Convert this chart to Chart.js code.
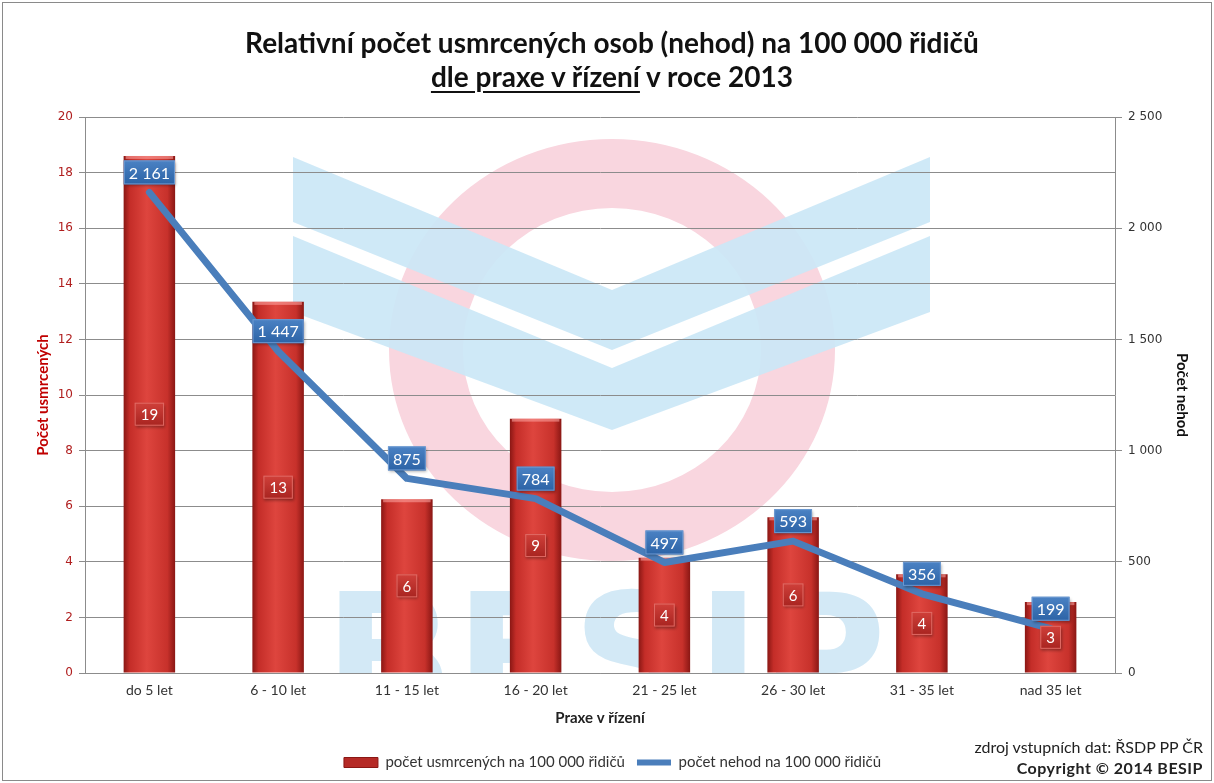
<!DOCTYPE html>
<html>
<head>
<meta charset="utf-8">
<script src="https://cdn.jsdelivr.net/npm/chart.js@4"></script>
<style>
  html, body { margin: 0; padding: 0; background: #fff; }
  #wrap { position: relative; width: 1214px; height: 783px; overflow: hidden; }
  #frame { position: absolute; left: 2px; top: 2px; right: 2px; bottom: 2px; border: 1px solid #8a8a8a; pointer-events: none; }
  #chart { position: absolute; left: 0; top: 0; }
  .title { position: absolute; left: 0; width: 1224px; text-align: center; font-family: Lato, 'Open Sans', sans-serif; font-weight: bold; font-size: 28px; color: #111; }
  .title u { text-decoration-thickness: 2px; text-underline-offset: 4px; }
  .note { position: absolute; right: 11px; font-family: Lato, 'Open Sans', sans-serif; font-size: 16px; color: #222; text-align: right; }
</style>
</head>
<body>
<div id="wrap">
  <canvas id="chart" width="1214" height="783"></canvas>
  <div class="title" style="top:25px">Relativní počet usmrcených osob (nehod) na 100 000 řidičů</div>
  <div class="title" style="top:59px"><u>dle praxe v řízení</u> v roce 2013</div>
  <div class="note" style="top:737px">zdroj vstupních dat: ŘSDP PP ČR</div>
  <div class="note" style="top:758px;font-weight:bold;letter-spacing:0.5px">Copyright © 2014 BESIP</div>
  <div id="frame"></div>
</div>
<script>
const categories = ['do 5 let', '6 - 10 let', '11 - 15 let', '16 - 20 let', '21 - 25 let', '26 - 30 let', '31 - 35 let', 'nad 35 let'];
const killedPer100k = [18.6, 13.35, 6.25, 9.15, 4.15, 5.6, 3.55, 2.55];
const accidentsPer100k = [2161, 1447, 875, 784, 497, 593, 356, 199];
const leftTicks = [0, 20, 2];
const rightTicks = [0, 2500, 500];

const NARROW = "Lato, 'Open Sans', sans-serif";
const WIDE = "'DejaVu Sans', Verdana, sans-serif";
const RED_TXT = '#b01e1e';
const LINE_BLUE = '#4a7ebb';

const fmtSpace = v => String(v).replace(/\B(?=(\d{3})+(?!\d))/g, ' ');

// bar fill: dark edges, lighter middle (Excel 3D look)
function barFill(c) {
  const chart = c.chart;
  if (!chart.chartArea || !chart.scales.x) return '#c8322d';
  const x = chart.scales.x.getPixelForValue(c.dataIndex);
  const w = chart.scales.x.width / categories.length * 0.4;
  const g = chart.ctx.createLinearGradient(x - w / 2, 0, x + w / 2, 0);
  g.addColorStop(0, '#8a1714');
  g.addColorStop(0.12, '#c42d28');
  g.addColorStop(0.45, '#de453e');
  g.addColorStop(0.85, '#c7312b');
  g.addColorStop(1, '#8a1714');
  return g;
}

const watermark = {
  id: 'watermark',
  beforeDraw(chart) {
    const { ctx, chartArea: a } = chart;
    ctx.save();
    ctx.fillStyle = '#fff';
    ctx.fillRect(0, 0, chart.width, chart.height);
    ctx.beginPath();
    ctx.rect(a.left, a.top, a.right - a.left, a.bottom - a.top);
    ctx.clip();
    // pink ring
    ctx.beginPath();
    ctx.ellipse(612, 350, 223, 211, 0, 0, Math.PI * 2);
    ctx.ellipse(612, 350, 149, 142, 0, 0, Math.PI * 2, true);
    ctx.fillStyle = '#f9d6df';
    ctx.fill('evenodd');
    // two chevrons
    ctx.fillStyle = 'rgba(203,231,246,0.92)';
    const chev = (t1, v1, t2, v2) => {
      ctx.beginPath();
      ctx.moveTo(293, t1); ctx.lineTo(612, v1); ctx.lineTo(930, t1);
      ctx.lineTo(930, t2); ctx.lineTo(612, v2); ctx.lineTo(293, t2);
      ctx.closePath(); ctx.fill();
    };
    chev(157, 290, 222, 350);
    chev(236, 368, 312, 430);
    // BESIP lettering, mostly hidden below the axis
    ctx.fillStyle = '#d3e9f6';
    ctx.font = "bold 172px 'DejaVu Sans', sans-serif";
    ctx.textAlign = 'center';
    ctx.textBaseline = 'alphabetic';
    ctx.fillText('BESIP', 605, 716);
    ctx.restore();
  }
};

function box(ctx, cx, cy, w, h, top, bottom, border) {
  const g = ctx.createLinearGradient(0, cy - h / 2, 0, cy + h / 2);
  g.addColorStop(0, top);
  g.addColorStop(1, bottom);
  ctx.shadowColor = 'rgba(0,0,0,0.35)';
  ctx.shadowBlur = 3;
  ctx.shadowOffsetX = 1;
  ctx.shadowOffsetY = 2;
  ctx.fillStyle = g;
  ctx.fillRect(cx - w / 2, cy - h / 2, w, h);
  ctx.shadowColor = 'transparent';
  ctx.strokeStyle = border;
  ctx.lineWidth = 1;
  ctx.strokeRect(cx - w / 2 + 0.5, cy - h / 2 + 0.5, w - 1, h - 1);
}

const valueLabels = {
  id: 'valueLabels',
  afterDatasetDraw(chart, args) {
    const { ctx } = chart;
    if (args.index !== 0) return;
    ctx.save();
    // light top cap on each bar
    args.meta.data.forEach(bar => {
      const p = bar.getProps(['x', 'y', 'width'], true);
      ctx.fillStyle = 'rgba(255,170,165,0.55)';
      ctx.fillRect(p.x - p.width / 2 + 2, p.y, p.width - 4, 3);
    });
    ctx.restore();
  },
  afterDatasetsDraw(chart) {
    const { ctx } = chart;
    ctx.save();
    ctx.textAlign = 'center';
    ctx.textBaseline = 'middle';
    const bars = chart.getDatasetMeta(0).data;
    ctx.font = '15px ' + NARROW;
    bars.forEach((bar, i) => {
      const p = bar.getProps(['x', 'y', 'base'], true);
      const txt = String(Math.round(killedPer100k[i]));
      const w = ctx.measureText(txt).width + 12;
      const cy = (p.y + p.base) / 2;
      box(ctx, p.x, cy, w, 23, '#d0403a', '#a82420', '#e06a64');
      ctx.fillStyle = '#fff';
      ctx.fillText(txt, p.x, cy + 1);
    });
    const pts = chart.getDatasetMeta(1).data;
    ctx.font = '16px ' + NARROW;
    pts.forEach((pt, i) => {
      const p = pt.getProps(['x', 'y'], true);
      const txt = fmtSpace(accidentsPer100k[i]);
      const w = ctx.measureText(txt).width + 10;
      const cy = p.y - 20;
      box(ctx, p.x, cy, w, 24, '#4b82c4', '#2c63a6', '#6d9ad2');
      ctx.fillStyle = '#fff';
      ctx.fillText(txt, p.x, cy + 1);
    });
    ctx.restore();
  }
};

new Chart(document.getElementById('chart'), {
  data: {
    labels: categories,
    datasets: [
      {
        type: 'bar',
        label: 'počet usmrcených na 100 000 řidičů',
        data: killedPer100k,
        yAxisID: 'y',
        order: 1,
        backgroundColor: barFill,
        borderWidth: 0,
        categoryPercentage: 1,
        barPercentage: 0.4,
      },
      {
        type: 'line',
        label: 'počet nehod na 100 000 řidičů',
        data: accidentsPer100k,
        yAxisID: 'y1',
        order: 0,
        borderColor: LINE_BLUE,
        backgroundColor: LINE_BLUE,
        borderWidth: 7,
        borderCapStyle: 'round',
        borderJoinStyle: 'round',
        pointRadius: 0,
        tension: 0,
      },
    ],
  },
  options: {
    responsive: false,
    animation: false,
    layout: { padding: { left: 30, right: 19, top: 117, bottom: 3 } },
    plugins: {
      title: { display: false },
      tooltip: { enabled: false },
      legend: {
        position: 'bottom',
        labels: {
          usePointStyle: true,
          pointStyleWidth: 34,
          boxHeight: 10,
          padding: 12,
          color: '#333',
          font: { family: NARROW, size: 15 },
          generateLabels: chart => chart.data.datasets.map((d, i) => ({
            text: d.label,
            datasetIndex: i,
            fillStyle: i === 0 ? '#b52a26' : LINE_BLUE,
            strokeStyle: i === 0 ? '#8a1714' : LINE_BLUE,
            lineWidth: i === 0 ? 1 : 6,
            pointStyle: i === 0 ? 'rect' : 'line',
            fontColor: '#333',
          })),
        },
      },
    },
    scales: {
      x: {
        offset: true,
        grid: { display: false, drawTicks: false },
        border: { display: true, color: '#8c8c8c' },
        ticks: { color: '#333', font: { family: NARROW, size: 14 }, padding: 9 },
        title: { display: true, text: 'Praxe v řízení', color: '#222', font: { family: NARROW, size: 15, weight: 'bold' }, padding: { top: 4, bottom: 16 } },
        afterFit: s => { s.height = 70; },
      },
      y: {
        position: 'left',
        min: leftTicks[0],
        max: leftTicks[1],
        ticks: { stepSize: leftTicks[2], color: RED_TXT, font: { family: WIDE, size: 12 }, padding: 6 },
        grid: { color: '#8c8c8c', tickLength: 6 },
        border: { color: '#8c8c8c' },
        title: { display: true, text: 'Počet usmrcených', color: '#c00000', font: { family: NARROW, size: 15, weight: 'bold' } },
        afterFit: s => { s.width = 55; },
      },
      y1: {
        position: 'right',
        min: rightTicks[0],
        max: rightTicks[1],
        ticks: { stepSize: rightTicks[2], color: '#333', font: { family: WIDE, size: 12 }, padding: 6, callback: v => fmtSpace(v) },
        grid: { drawOnChartArea: false, color: '#8c8c8c', tickLength: 7 },
        border: { color: '#8c8c8c' },
        title: { display: true, text: 'Počet nehod', color: '#111', font: { family: NARROW, size: 15, weight: 'bold' } },
        afterFit: s => { s.width = 80; },
      },
    },
  },
  plugins: [watermark, valueLabels],
});
</script>
</body>
</html>
